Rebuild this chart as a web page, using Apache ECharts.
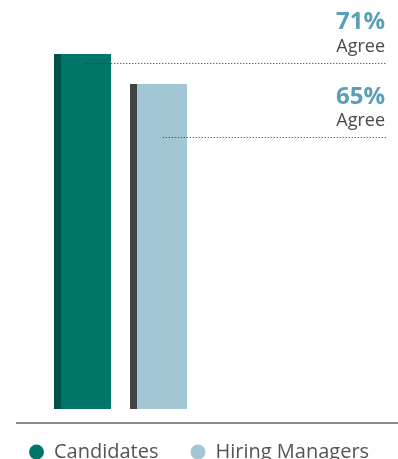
<!DOCTYPE html>
<html lang="en">
  <head>
    <meta charset="UTF-8" />
    <script src="https://cdn.jsdelivr.net/npm/echarts@6/dist/echarts.min.js"></script>
    <title>Agree</title>
    <style>
      html, body { margin: 0; padding: 0; background: #fff; }
      #app { width: 398px; height: 459px; }
    </style>
  </head>
  <body>
    <div id="app"></div>

    <script>
      // data
      const categories = ["Candidates", "Hiring Managers"];
      const values = [71, 65];
      const labelWord = "Agree";

      // look of each group: main colour, left edge strip colour
      const mainColors = ["#00756a", "#a3c6d4"];
      const stripColors = ["#005148", "#434345"];
      // leader line: drop below bar top, start offset from bar centre
      // label: percent/word offsets from bar top
      const layout = [
        { lineDy: 9, lineDx: 2, pctDy: -32, wordDy: -7 },
        { lineDy: 53, lineDx: 4, pctDy: 13, wordDy: 37 },
      ];

      const font = "'Open Sans', sans-serif";
      const chart = echarts.init(document.getElementById("app"));

      function renderBar(params, api) {
        const idx = api.value(0);
        const top = api.coord([idx, api.value(1)]);
        const base = api.coord([idx, 0]);
        const cx = top[0];
        const stripW = 7, mainW = 50;
        const left = Math.round(cx - (stripW + mainW) / 2);
        const L = layout[idx];
        const h = base[1] - top[1];
        return {
          type: "group",
          children: [
            { type: "rect", shape: { x: left, y: top[1], width: stripW, height: h }, style: { fill: stripColors[idx] } },
            { type: "rect", shape: { x: left + stripW, y: top[1], width: mainW, height: h }, style: { fill: mainColors[idx] } },
            {
              type: "line",
              shape: { x1: cx + L.lineDx, y1: top[1] + L.lineDy + 0.5, x2: 386, y2: top[1] + L.lineDy + 0.5 },
              style: { stroke: "#333", lineWidth: 1, lineDash: [1, 2] },
              z2: 10,
            },
            {
              type: "text",
              x: 385, y: top[1] + L.pctDy,
              style: { text: api.value(1) + "%", align: "right", verticalAlign: "middle", fill: "#5a9fb8", font: "bold 24px " + font },
            },
            {
              type: "text",
              x: 385, y: top[1] + L.wordDy,
              style: { text: labelWord, align: "right", verticalAlign: "middle", fill: "#4a4a4a", font: "18px " + font },
            },
          ],
        };
      }

      chart.setOption({
        animation: false,
        grid: { left: 44, width: 153, top: 9, bottom: 50 },
        xAxis: { type: "category", data: categories, show: false },
        yAxis: { type: "value", min: 0, max: 80, show: false },
        legend: {
          top: 437,
          left: 24,
          icon: "circle",
          itemWidth: 15,
          itemHeight: 15,
          itemGap: 32,
          textStyle: { fontFamily: font, fontSize: 20, color: "#555", padding: [0, 0, 0, 5] },
          data: categories,
        },
        graphic: [
          { type: "line", shape: { x1: 16, y1: 423, x2: 398, y2: 423 }, style: { stroke: "#8a8a8a", lineWidth: 2 } },
        ],
        series: categories.map((name, i) => ({
          name: name,
          type: "custom",
          renderItem: renderBar,
          itemStyle: { color: mainColors[i] },
          data: [[i, values[i]]],
        })),
      });
    </script>
  </body>
</html>
